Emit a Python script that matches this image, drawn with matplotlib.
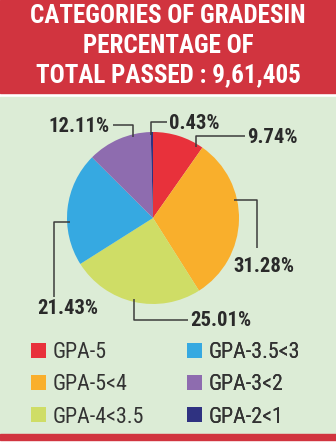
import matplotlib
matplotlib.use("Agg")
import matplotlib.pyplot as plt
from matplotlib.patches import Rectangle
import numpy as np
from matplotlib import font_manager

categories = ["GPA-5", "GPA-5<4", "GPA-4<3.5", "GPA-3.5<3", "GPA-3<2", "GPA-2<1"]
values = [9.74, 31.28, 25.01, 21.43, 12.11, 0.43]
colors = ["#E8313B", "#F9AF2C", "#CFDD66", "#36A9E1", "#8E6CAF", "#2F3281"]
title_lines = ["CATEGORIES OF GRADESIN", "PERCENTAGE OF", "TOTAL PASSED : 9,61,405"]

names = {f.name for f in font_manager.fontManager.ttflist}
FONT = "Roboto"
for cand in ["Roboto Condensed", "Liberation Sans Narrow", "DejaVu Sans Condensed", "Roboto"]:
    if cand in names:
        FONT = cand
        break

W, H = 336, 448
fig = plt.figure(figsize=(W / 100, H / 100), dpi=100)
fig.patch.set_facecolor("white")
ax = fig.add_axes([0, 0, 1, 1])
renderer = fig.canvas.get_renderer()

def Y(y):  # image-y (top-down) to axes-y
    return H - y

def fit(texts, target_w):
    """scale font sizes of texts so that the first one has width target_w px"""
    w = texts[0].get_window_extent(renderer).width
    s = texts[0].get_fontsize() * target_w / w
    for t in texts:
        t.set_fontsize(s)
    return s

# background panels
ax.add_patch(Rectangle((0, Y(93)), W, 93, color="#D1343F", zorder=0))
ax.add_patch(Rectangle((0, Y(434)), W, 434 - 97, color="#DCECD6", zorder=0))
ax.add_patch(Rectangle((0, Y(440)), W, 6, color="#D1343F", zorder=0))

# pie
cx, cy, R = 153, 218, 86
wedges, _ = ax.pie(values, colors=colors, startangle=90, counterclock=False,
                   radius=R, center=(cx, Y(cy)), frame=True,
                   wedgeprops=dict(linewidth=0))
ax.set_xlim(0, W)
ax.set_ylim(0, H)
ax.set_aspect("equal")
ax.axis("off")

# title
tt = []
for i, line in enumerate(title_lines):
    tt.append(ax.text(W / 2, Y(16 + 29.5 * i), line, color="white", fontsize=20,
                      fontweight="bold", family=FONT, ha="center", va="center", zorder=3))
fit(tt, 276)

# leader lines
lc = "#3C3C3C"
def anchor(ang, r=R - 3):
    a = np.deg2rad(ang)
    return cx + r * np.cos(a), cy - r * np.sin(a)

label_layout = [
    (0, 58.5, lambda p: [(p[0], 136), (245, 136)], (247, 137), "left"),
    (1, 12.6, lambda p: [(257, p[1]), (257, 248)], (264, 267), "center"),
    (2, -103, lambda p: [(p[0], 320), (188, 320)], (190, 321), "left"),
    (3, 183, lambda p: [(54, p[1]), (54, 297)], (68, 308), "center"),
    (4, 104, lambda p: [(p[0], 125), (113, 125)], (110, 126), "right"),
    (5, 91.4, lambda p: [(p[0], 122), (167, 122)], (169, 123), "left"),
]
lt = []
for idx, ang, elbow, lxy, ha in label_layout:
    p = anchor(ang)
    pts = [p] + elbow(p)
    ax.plot([q[0] for q in pts], [Y(q[1]) for q in pts], color=lc, lw=1.1,
            zorder=4, solid_capstyle="butt")
    lt.append(ax.text(lxy[0], Y(lxy[1]), f"{values[idx]:.2f}%", color="#2A2A2A",
                      fontsize=15, fontweight="bold", family=FONT, ha=ha,
                      va="center", zorder=5))
# size labels so "12.11%" is ~61px wide
order = [4, 0, 1, 2, 3, 5]
fit([lt[i] for i in order], 61)

# legend: font size so "GPA-3.5<3" ~ 92px
probe = ax.text(0, 0, categories[3], fontsize=16, family=FONT)
fs = fit([probe], 92)
probe.remove()
fs_px = fs * 100 / 72
sq = 15
pitch = 31
for col, (x0, sl) in enumerate([(31, slice(0, 3)), (187, slice(3, 6))]):
    leg = ax.legend(wedges[sl], categories[sl], ncol=1, frameon=False,
                    loc="upper left", bbox_to_anchor=(x0 / W, 1 - 342 / H),
                    bbox_transform=fig.transFigure,
                    prop=dict(family=FONT, size=fs),
                    handlelength=sq / fs_px, handleheight=sq / fs_px,
                    handletextpad=7 / fs_px,
                    labelspacing=(pitch - 1.17 * fs_px + 6) / fs_px, borderpad=0,
                    borderaxespad=0)
    for t in leg.get_texts():
        t.set_color("#333333")
    ax.add_artist(leg)

fig.savefig("out.png", dpi=100, facecolor="white")
